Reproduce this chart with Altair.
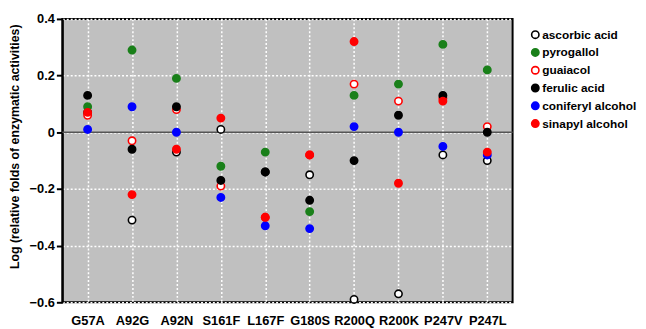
import altair as alt
import pandas as pd

mutants = ["G57A", "A92G", "A92N", "S161F", "L167F", "G180S", "R200Q", "R200K", "P247V", "P247L"]
series = ["ascorbic acid", "pyrogallol", "guaiacol", "ferulic acid", "coniferyl alcohol", "sinapyl alcohol"]

ascorbic = [0.07, -0.31, -0.07, 0.01, -0.14, -0.15, -0.59, -0.57, -0.08, -0.10]
pyrogallol = [0.09, 0.29, 0.19, -0.12, -0.07, -0.28, 0.13, 0.17, 0.31, 0.22]
guaiacol = [0.06, -0.03, 0.08, -0.19, -0.30, -0.08, 0.17, 0.11, 0.12, 0.02]
ferulic = [0.13, -0.06, 0.09, -0.17, -0.14, -0.24, -0.10, 0.06, 0.13, 0.00]
coniferyl = [0.01, 0.09, 0.00, -0.23, -0.33, -0.34, 0.02, 0.00, -0.05, -0.08]
sinapyl = [0.07, -0.22, -0.06, 0.05, -0.30, -0.08, 0.32, -0.18, 0.11, -0.07]

values = [ascorbic, pyrogallol, guaiacol, ferulic, coniferyl, sinapyl]
fills = ["#ffffff", "#1a801a", "#ffffff", "#000000", "#0000ff", "#ff0000"]
strokes = ["#000000", "#1a801a", "#ff0000", "#000000", "#0000ff", "#ff0000"]

rows = []
for si, (s, vals) in enumerate(zip(series, values)):
    for m, v in zip(mutants, vals):
        rows.append({"mutant": m, "series": s, "value": v, "ord": si})
df = pd.DataFrame(rows)

FONT = "Liberation Sans"

x_enc = alt.X("mutant:N", sort=mutants,
              scale=alt.Scale(type="point", domain=mutants, padding=0.57),
              axis=alt.Axis(title=None, ticks=False, domain=False, labelAngle=0,
                            labelFont=FONT, labelFontSize=13, labelFontWeight="bold",
                            labelColor="#000000", labelPadding=12,
                            grid=True, gridColor="#ffffff", gridDash=[2, 2], gridWidth=1.5))

y_enc = alt.Y("value:Q",
              scale=alt.Scale(domain=[-0.6, 0.4], nice=False, zero=False),
              axis=alt.Axis(title="Log (relative folds of enzymatic activities)",
                            values=[0.4, 0.2, 0, -0.2, -0.4, -0.6],
                            labelExpr="datum.value == 0 ? '0' : format(datum.value, '.1f')",
                            labelFont=FONT, labelFontSize=13, labelFontWeight="bold",
                            labelColor="#000000", labelPadding=2,
                            ticks=True, tickSize=6, tickColor="#000000", tickWidth=2,
                            domain=True, domainColor="#000000", domainWidth=2,
                            grid=True, gridColor="#ffffff", gridDash=[2, 2], gridWidth=1.5,
                            titleFont=FONT, titleFontSize=12.5, titleFontWeight="bold",
                            titleColor="#000000", titleX=-41, titleY=129,
                            titleAngle=-90, titleAlign="center", titleBaseline="bottom"))

legend_kw = dict(title=None, orient="none", legendX=473, legendY=10,
                 labelFont=FONT, labelFontSize=12, labelFontWeight="bold",
                 labelColor="#000000", symbolSize=55, symbolStrokeWidth=1.6,
                 labelOffset=1, rowPadding=4, padding=0)

points = alt.Chart(df).mark_point(size=55, strokeWidth=1.6, opacity=1, fillOpacity=1, filled=False).encode(
    x=x_enc,
    y=y_enc,
    fill=alt.Fill("series:N", scale=alt.Scale(domain=series, range=fills),
                  legend=alt.Legend(**legend_kw)),
    stroke=alt.Stroke("series:N", scale=alt.Scale(domain=series, range=strokes),
                      legend=alt.Legend(**legend_kw)),
    order=alt.Order("ord:Q"),
)

zero = alt.Chart(pd.DataFrame({"z": [0]})).mark_rule(color="#555555", strokeWidth=1.5).encode(y="z:Q")

chart = alt.layer(zero, points).properties(
    width=456, height=287,
    autosize=alt.AutoSizeParams(type="none"),
    padding={"left": 55, "top": 9, "right": 127, "bottom": 25},
).configure(
    background="#ffffff"
).configure_view(
    fill="#c0c0c0", stroke="#000000", strokeWidth=2
)

chart.save("out.html", embed_options={"renderer": "svg", "actions": False})
